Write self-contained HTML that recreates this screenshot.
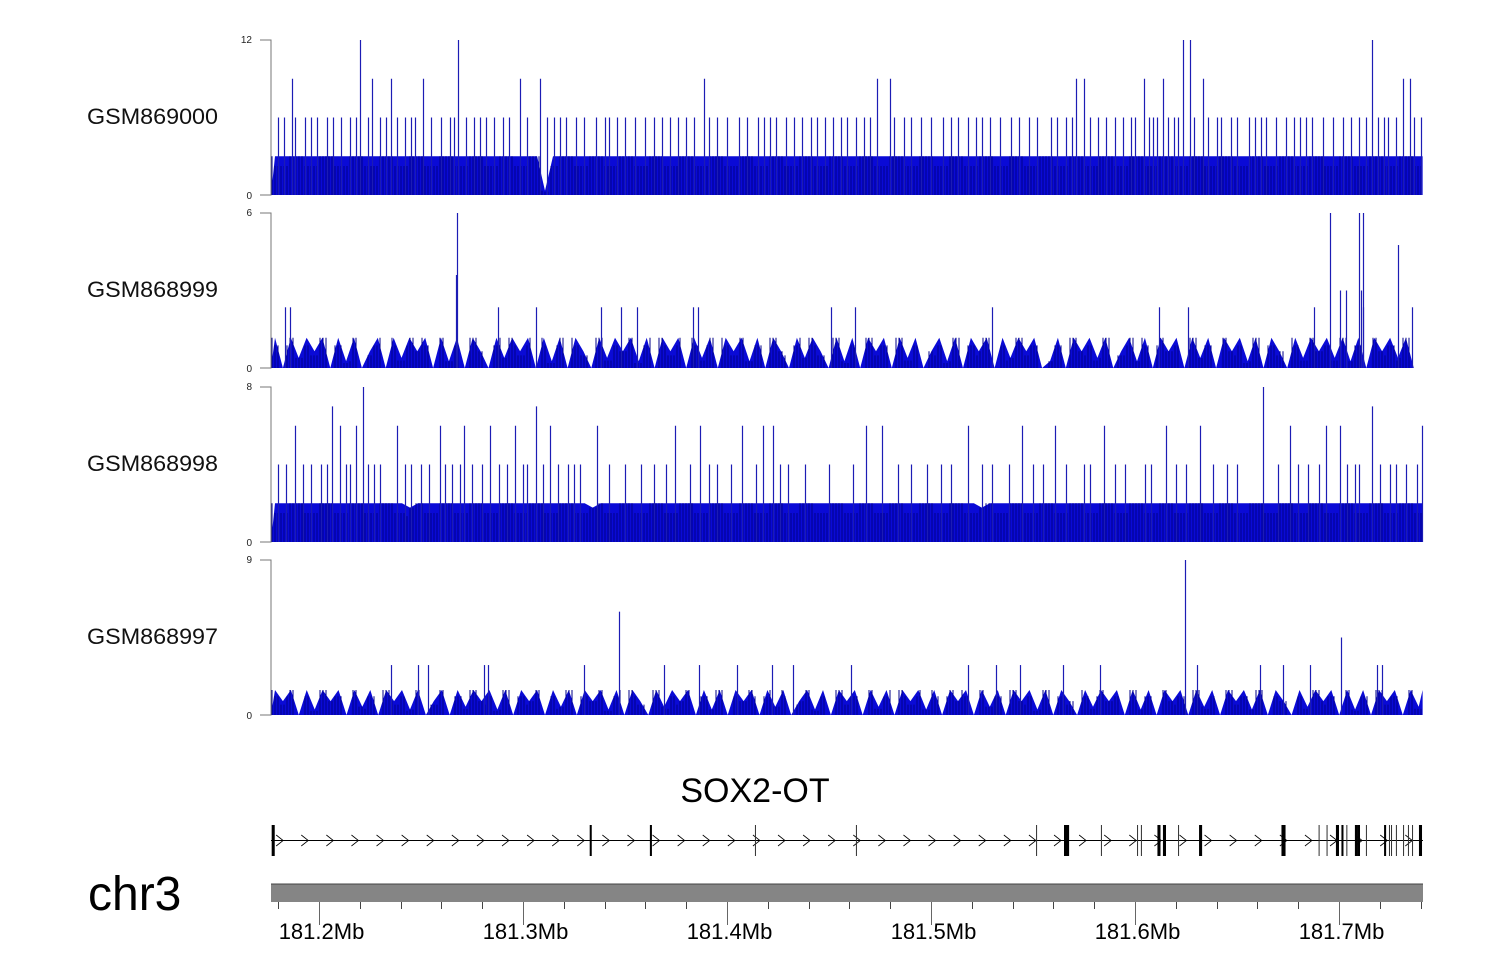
<!DOCTYPE html>
<html><head><meta charset="utf-8"><style>
html,body{margin:0;padding:0;background:#fff;}
svg{display:block;font-family:"Liberation Sans",sans-serif;}
</style></head><body>
<svg id="chart" width="1500" height="980" viewBox="0 0 1500 980" xmlns="http://www.w3.org/2000/svg"></svg>
<script>
// ---------- data ----------
const trackNames = ["GSM869000","GSM868999","GSM868998","GSM868997"];
const trackMax = [12, 6, 8, 9];
const baseLevel = [3, 1.17, 2, 1.45];
const trackEnd = [181.7410, 181.7386, 181.7410, 181.7410];
const dense1 = "9999999999999999999999999999999999199999999999999999999999999999999999999999999999999999999999999999999999999999999999999999999999999999999999999";
const dense2 = "9093959092905909395909290950939590929095093959290959093909592909509395092909590939059290959093959029095939059290959093909592909509395939290959390";
const dense3 = "9999999999999999989999999999999999999999899999999999999999999999999999999999999999999999989999999999999999999999999999999999999999999999999999999";
const dense4 = "9590929590939095929059093959290959093909592909509395909290959093905929095909390959290959093909592909509395909290959093909592909509395909290959093";
const spikePos1 = [181.2201,181.2681,181.6235,181.6270,181.7162,181.1868,181.2260,181.2353,181.2510,181.2985,181.3083,181.3887,181.4735,181.4799,181.5711,181.5750,181.6044,181.6137,181.6333,181.7314,181.7348,181.1830,181.1930,181.2040,181.2150,181.2300,181.2420,181.2600,181.2720,181.2820,181.2900,181.3180,181.3260,181.3360,181.3460,181.3550,181.3680,181.3760,181.3950,181.4060,181.4180,181.4240,181.4370,181.4480,181.4560,181.4630,181.4870,181.4950,181.5060,181.5180,181.5290,181.5390,181.5480,181.5590,181.5660,181.5820,181.5900,181.5980,181.6090,181.6190,181.6400,181.6470,181.6560,181.6640,181.6740,181.6840,181.6920,181.7020,181.7100,181.7220,181.7280,181.7400,
181.1800,181.1880,181.1960,181.1990,181.2070,181.2110,181.2180,181.2240,181.2330,181.2380,181.2450,181.2470,181.2550,181.2640,181.2660,181.2760,181.2790,181.2860,181.2930,181.3020,181.3120,181.3150,181.3210,181.3300,181.3400,181.3420,181.3500,181.3600,181.3640,181.3720,181.3800,181.3840,181.3910,181.4000,181.4100,181.4150,181.4210,181.4290,181.4330,181.4410,181.4440,181.4520,181.4590,181.4670,181.4700,181.4820,181.4900,181.5000,181.5100,181.5130,181.5220,181.5250,181.5340,181.5430,181.5520,181.5620,181.5690,181.5780,181.5860,181.5940,181.6000,181.6070,181.6110,181.6160,181.6210,181.6290,181.6360,181.6420,181.6500,181.6590,181.6620,181.6690,181.6780,181.6810,181.6870,181.6970,181.7060,181.7130,181.7190,181.7240,181.7370];
const spikeVal1 = [12,12,12,12,12,9,9,9,9,9,9,9,9,9,9,9,9,9,9,9,9,6,6,6,6,6,6,6,6,6,6,6,6,6,6,6,6,6,6,6,6,6,6,6,6,6,6,6,6,6,6,6,6,6,6,6,6,6,6,6,6,6,6,6,6,6,6,6,6,6,6,6,
6,6,6,6,6,6,6,6,6,6,6,6,6,6,6,6,6,6,6,6,6,6,6,6,6,6,6,6,6,6,6,6,6,6,6,6,6,6,6,6,6,6,6,6,6,6,6,6,6,6,6,6,6,6,6,6,6,6,6,6,6,6,6,6,6,6,6,6,6,6,6,6,6,6,6,6,6,6,6,6,6];
const spikePos2 = [181.2677,181.6958,181.7096,181.7120,181.7287,181.7007,181.7036,181.7110,181.1834,181.1858,181.2672,181.2877,181.3064,181.3382,181.3480,181.3559,181.3833,181.3858,181.4510,181.4627,181.5299,181.6118,181.6260,181.6877,181.7120,181.7360];
const spikeVal2 = [6,6,6,6,4.76,3,3,3,2.35,2.35,3.6,2.35,2.35,2.35,2.35,2.35,2.35,2.35,2.35,2.35,2.35,2.35,2.35,2.35,2.35,2.35];
const spikePos3 = [181.2216,181.6627,181.2064,181.3064,181.7162,181.1882,181.2103,181.2181,181.2382,181.2593,181.2711,181.2838,181.2961,181.3132,181.3363,181.3745,181.3868,181.4074,181.4176,181.4225,181.4681,181.4760,181.5181,181.5446,181.5608,181.5848,181.6152,181.6319,181.6760,181.6936,181.7005,181.7407,181.1960,181.2300,181.2500,181.2750,181.3000,181.3250,181.3500,181.3700,181.3950,181.4300,181.4500,181.4900,181.5050,181.5300,181.5550,181.5750,181.5950,181.6050,181.6250,181.6450,181.6850,181.7080,181.7250,181.7330,
181.1800,181.1840,181.1920,181.2010,181.2040,181.2130,181.2150,181.2240,181.2270,181.2420,181.2450,181.2540,181.2620,181.2650,181.2690,181.2800,181.2880,181.2920,181.3020,181.3100,181.3170,181.3220,181.3280,181.3420,181.3580,181.3640,181.3820,181.3910,181.4020,181.4140,181.4260,181.4380,181.4620,181.4840,181.4980,181.5100,181.5250,181.5380,181.5500,181.5660,181.5780,181.5900,181.6080,181.6200,181.6380,181.6500,181.6700,181.6800,181.6900,181.7040,181.7100,181.7200,181.7280,181.7380];
const spikeVal3 = [8,8,7,7,7,6,6,6,6,6,6,6,6,6,6,6,6,6,6,6,6,6,6,6,6,6,6,6,6,6,6,6,4,4,4,4,4,4,4,4,4,4,4,4,4,4,4,4,4,4,4,4,4,4,4,4,
4,4,4,4,4,4,4,4,4,4,4,4,4,4,4,4,4,4,4,4,4,4,4,4,4,4,4,4,4,4,4,4,4,4,4,4,4,4,4,4,4,4,4,4,4,4,4,4,4,4,4,4,4,4];
const spikePos4 = [181.6245,181.3471,181.7010,181.2353,181.2485,181.2534,181.2809,181.2828,181.3299,181.3691,181.3863,181.4049,181.4220,181.4324,181.4608,181.5181,181.5319,181.5436,181.5647,181.5828,181.6304,181.6613,181.6725,181.6858,181.7186,181.7211];
const spikeVal4 = [9,6,4.5,2.9,2.9,2.9,2.9,2.9,2.9,2.9,2.9,2.9,2.9,2.9,2.9,2.9,2.9,2.9,2.9,2.9,2.9,2.9,2.9,2.9,2.9,2.9];
const exonStart = [181.1768,181.3327,181.3622,181.4137,181.4632,181.5515,181.5652,181.5833,181.6010,181.6029,181.6110,181.6137,181.6211,181.6314,181.6718,181.6900,181.6939,181.6985,181.7012,181.7036,181.7078,181.7093,181.7132,181.7221,181.7245,181.7255,181.7279,181.7314,181.7338,181.7358,181.7392];
const exonLenKb = [1.5,1,1,0.5,0.5,0.5,2.5,0.5,0.5,0.5,1.5,1.5,0.5,1.5,2,0.5,0.5,1.5,1,0.5,1.5,1,0.5,1,0.5,0.5,0.5,0.5,0.5,0.5,1.5];
const axisTicksMajor = [181.2,181.3,181.4,181.5,181.6,181.7];
const axisLabels = ["181.2Mb","181.3Mb","181.4Mb","181.5Mb","181.6Mb","181.7Mb"];
const geneName = "SOX2-OT";
const chromName = "chr3";
const genomeStart = 181.17647, genomeEnd = 181.74118;

// ---------- scales ----------
const X0 = 271, X1 = 1423;
const xs = mb => X0 + (mb - genomeStart) / (genomeEnd - genomeStart) * (X1 - X0);
const trackTop = [40, 213, 387, 560];
const trackH = 155;
const NS = "http://www.w3.org/2000/svg";
const svg = document.getElementById("chart");
function mk(tag, attrs, parent) {
  const e = document.createElementNS(NS, tag);
  for (const k in attrs) e.setAttribute(k, attrs[k]);
  (parent || svg).appendChild(e);
  return e;
}
const denseArr = [dense1, dense2, dense3, dense4];
const spikeP = [spikePos1, spikePos2, spikePos3, spikePos4];
const spikeV = [spikeVal1, spikeVal2, spikeVal3, spikeVal4];

for (let t = 0; t < 4; t++) {
  const g = mk("g", {});
  
  
  const top = trackTop[t], bot = top + trackH;
  const ys = v => bot - v / trackMax[t] * trackH;
  const xe = xs(trackEnd[t]);
  const s = denseArr[t];
  const n = s.length;
  let pts = [X0 + "," + bot];
  for (let i = 0; i < n; i++) {
    const x = X0 + (i + 0.5) / n * (xe - X0);
    const v = parseInt(s[i]) / 9 * baseLevel[t];
    pts.push(x.toFixed(1) + "," + ys(v).toFixed(1));
  }
  pts.push(xe + "," + ys(baseLevel[t] * (t === 1 ? 0 : 1)).toFixed(1));
  pts.push(xe + "," + bot);
  const poly = mk("polygon", {points: pts.join(" "), fill: "#0a0ad6"}, g);
  
  
  for (let x = X0 + 1; x < xe; x += 3) {
    const i = Math.min(n - 1, Math.floor((x - X0) / (xe - X0) * n));
    const v = parseInt(s[i]) / 9 * baseLevel[t];
    mk("line", {x1: x, x2: x, y1: bot, y2: ys(v * ((x * 7) % 10 < 5 ? 1 : 0.75)), stroke: "#00008a", "stroke-width": 1}, g);
  }
  for (let k = 0; k < spikeP[t].length; k++) {
    const x = Math.round(xs(spikeP[t][k])) + 0.5;
    const ln = mk("line", {x1: x, x2: x, y1: bot, y2: ys(spikeV[t][k]), stroke: "#1c1cb4", "stroke-width": 1.2}, g);
    
    
  }
  const ax = mk("path", {d: `M260 ${top}H271V${bot}H260`, fill: "none", stroke: "#777", "stroke-width": 1}, g);
  
  
  const tmax = mk("text", {x: 252, y: top + 3, "font-size": 10, "text-anchor": "end", fill: "#222"}, g);
  tmax.textContent = trackMax[t];
  
  
  const tmin = mk("text", {x: 252, y: bot + 4, "font-size": 10, "text-anchor": "end", fill: "#222"}, g);
  tmin.textContent = "0";
  
  
  const lab = mk("text", {x: 218, y: top + 84, "font-size": 22, "text-anchor": "end", fill: "#111", textLength: 131, lengthAdjust: "spacingAndGlyphs"}, g);
  lab.textContent = trackNames[t];
  
  
}

// gene track
const gg = mk("g", {});


const gt = mk("text", {x: 755, y: 802, "font-size": 34, "text-anchor": "middle", fill: "#000"}, gg);
gt.textContent = geneName;


mk("line", {x1: X0, x2: X1, y1: 840.5, y2: 840.5, stroke: "#000", "stroke-width": 1}, gg);
for (let mb = genomeStart + 0.0045; mb < genomeEnd; mb += 0.0123) {
  const x = xs(mb);
  mk("path", {d: `M${x - 4} ${835}L${x + 3} ${840.5}L${x - 4} ${846}`, fill: "none", stroke: "#000", "stroke-width": 0.8}, gg);
}
for (let k = 0; k < exonStart.length; k++) {
  const x = xs(exonStart[k]);
  const w = Math.max(1, exonLenKb[k] / 1000 / (genomeEnd - genomeStart) * (X1 - X0));
  const r = mk("rect", {x: x, y: 825, width: w, height: 31, fill: w > 1.5 ? "#000" : "#333"}, gg);
  
  
}

// chromosome axis
const ct = mk("text", {x: 88, y: 910, "font-size": 48, fill: "#000"});
ct.textContent = chromName;


const bar = mk("rect", {x: X0, y: 884, width: X1 - X0, height: 18, fill: "#858585"});


mk("line", {x1: X0, x2: X1, y1: 884, y2: 884, stroke: "#444", "stroke-width": 1});
for (let mb = 181.18; mb < genomeEnd; mb += 0.02) {
  const x = Math.round(xs(mb)) + 0.5;
  mk("line", {x1: x, x2: x, y1: 902, y2: 909, stroke: "#444", "stroke-width": 1});
}
for (let k = 0; k < axisTicksMajor.length; k++) {
  const x = Math.round(xs(axisTicksMajor[k])) + 0.5;
  mk("line", {x1: x, x2: x, y1: 902, y2: 925, stroke: "#666", "stroke-width": 1});
  const tl = mk("text", {x: x + 2, y: 939, "font-size": 22, "text-anchor": "middle", fill: "#000"});
  tl.textContent = axisLabels[k];
  
  
}
</script>
</body></html>
